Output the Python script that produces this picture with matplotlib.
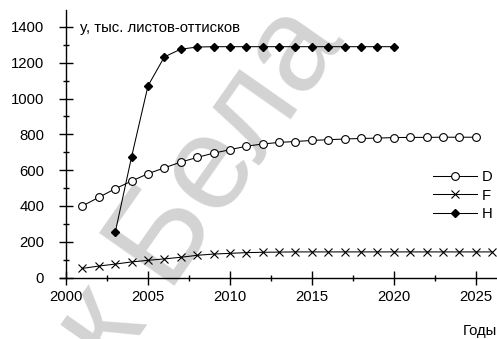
import matplotlib

matplotlib.use("Agg")
import matplotlib.pyplot as plt
from matplotlib.ticker import MultipleLocator

plt.rcParams["font.family"] = ["Liberation Sans", "DejaVu Sans"]

# series D: 2001..2025
years_d = list(range(2001, 2026))
vals_d = [400, 448, 496, 539, 580, 613, 645, 671, 695, 714, 734, 746, 755, 760, 766,
          770, 774, 777, 779, 782, 783, 783, 784, 784, 784]

# series F: 2001..2026
years_f = list(range(2001, 2027))
vals_f = [51, 64, 75, 87, 96, 104, 113, 124, 131, 135, 139, 141, 142, 143, 143,
          143, 143, 143, 143, 143, 143, 143, 143, 143, 143, 143]

# series H: 2003..2020
years_h = list(range(2003, 2021))
vals_h = [252, 675, 1071, 1233, 1276, 1288, 1290, 1290, 1290, 1290, 1290, 1290,
          1290, 1290, 1290, 1290, 1290, 1290]

series_names = ["D", "F", "H"]
y_title = "у, тыс. листов-оттисков"
x_title = "Годы"
mark_text = "к Бела"

W, H = 497, 339
fig = plt.figure(figsize=(W / 100, H / 100), dpi=100)
ax = fig.add_axes([60 / W, (H - 277.5) / H, (W - 60) / W, 267.5 / H])
fig.patch.set_facecolor("white")
ax.patch.set_alpha(0)

fs = 10.7

# grey stamp across the plot
ax.text(114 / W, (H - 372) / H, mark_text, transform=fig.transFigure, rotation=55,
        rotation_mode="anchor", ha="left", va="baseline", fontsize=96,
        color="#d3d3d3", zorder=0, clip_on=False)

lw = 0.75
ax.plot(years_d, vals_d, color="black", lw=lw, marker="o", ms=5.6, mfc="white",
        mec="black", mew=0.8, label=series_names[0], zorder=3)
ax.plot(years_f, vals_f, color="black", lw=lw, marker="x", ms=5.2, mew=0.8,
        label=series_names[1], zorder=3)
ax.plot(years_h, vals_h, color="black", lw=lw, marker="D", ms=4.4, mfc="black",
        mec="black", label=series_names[2], zorder=4)

ax.set_xlim(1999.63, 2026.3)
ax.set_ylim(0, 1495)
ax.spines["left"].set_position(("data", 2000))
ax.spines["right"].set_visible(False)
ax.spines["top"].set_visible(False)
for s in ("left", "bottom"):
    ax.spines[s].set_linewidth(1.0)

ax.xaxis.set_major_locator(MultipleLocator(5))
ax.xaxis.set_minor_locator(MultipleLocator(2.5))
ax.yaxis.set_major_locator(MultipleLocator(200))
ax.yaxis.set_minor_locator(MultipleLocator(100))
ax.set_xticks([2000, 2005, 2010, 2015, 2020, 2025])
ax.set_yticks(range(0, 1401, 200))
ax.tick_params(axis="both", which="major", direction="inout", length=9.5, width=1.0,
               labelsize=fs)
ax.tick_params(axis="both", which="minor", direction="inout", length=4, width=1.0)
ax.tick_params(axis="y", which="major", pad=11)
ax.tick_params(axis="x", which="major", pad=4)

ax.text(80 / W, (H - 28) / H, y_title, transform=fig.transFigure, fontsize=fs,
        ha="left", va="center")
ax.text(497 / W, (H - 331) / H, x_title, transform=fig.transFigure, fontsize=fs,
        ha="right", va="center")

ax.legend(loc="upper left", bbox_to_anchor=(426 / W, (H - 163) / H),
          bbox_transform=fig.transFigure, frameon=False, fontsize=fs,
          handlelength=2.95, handletextpad=0.3, labelspacing=0.28, borderpad=0)

fig.savefig("out.png", dpi=100)
